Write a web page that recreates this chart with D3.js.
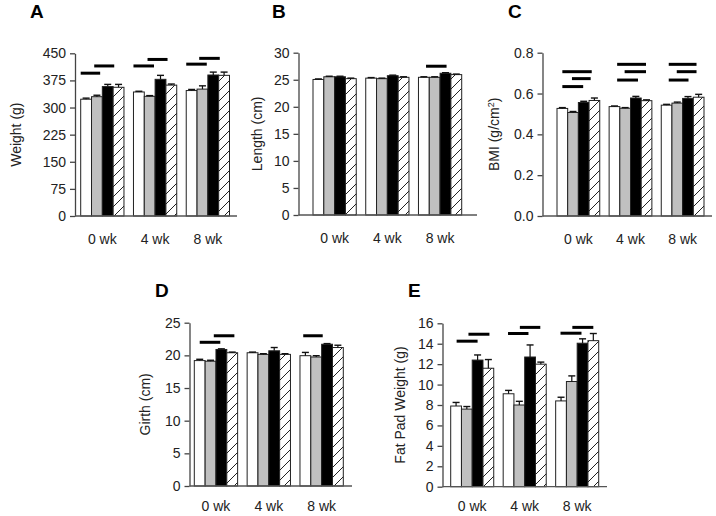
<!DOCTYPE html>
<html><head><meta charset="utf-8">
<script src="https://cdn.jsdelivr.net/npm/d3@7"></script>
<style>
body{margin:0;background:#fff}
svg{display:block;font-family:"Liberation Sans",Arial,sans-serif}
</style></head><body>
<svg id="fig" width="716" height="516"></svg>
<script>
// categories
const weeks = ["0 wk", "4 wk", "8 wk"];
const groups = [0, 1, 2, 3]; // open, grey, solid, hatched

// A - weight
const weightMean = [[323, 330, 358, 356], [343, 331, 378, 362], [347, 351, 390, 389]];
const weightErr = [[3, 4, 6, 8], [2, 2, 11, 3], [3, 9, 8, 9]];
const weightSig = [[0, 0, 1.8, 395], [0, 1.25, 3.1, 415], [1, 0, 1.9, 415], [1, 1.3, 3.15, 433], [2, 0, 1.9, 420], [2, 1.2, 3.1, 436]];
const weightTicks = [0, 75, 150, 225, 300, 375, 450];

// B - length
const lengthMean = [[25.05, 25.55, 25.55, 25.2], [25.3, 25.2, 25.75, 25.45], [25.45, 25.45, 26.2, 25.95]];
const lengthErr = [[0.1, 0.1, 0.1, 0.1], [0.1, 0.1, 0.1, 0.1], [0.1, 0.1, 0.1, 0.1]];
const lengthSig = [[2, 0.7, 2.6, 27.5]];
const lengthTicks = [0, 5, 10, 15, 20, 25, 30];

// C - BMI
const bmiMean = [[0.527, 0.507, 0.556, 0.566], [0.536, 0.528, 0.578, 0.565], [0.543, 0.553, 0.576, 0.582]];
const bmiErr = [[0.004, 0.005, 0.006, 0.012], [0.003, 0.003, 0.008, 0.004], [0.004, 0.005, 0.009, 0.014]];
const bmiSig = [[0, 0.5, 3.25, 0.707], [0, 1.4, 3.15, 0.673], [0, 0.5, 2.45, 0.634],
                [1, 0.75, 3.45, 0.743], [1, 1.45, 3.45, 0.707], [1, 0.75, 2.7, 0.666],
                [2, 0.7, 3.3, 0.743], [2, 1.45, 3.3, 0.707], [2, 0.7, 2.55, 0.666]];
const bmiTicks = [0, 0.2, 0.4, 0.6, 0.8];

// D - girth
const girthMean = [[19.2, 19.1, 20.9, 20.4], [20.4, 20.15, 20.7, 20.15], [19.95, 19.75, 21.7, 21.2]];
const girthErr = [[0.2, 0.15, 0.1, 0.1], [0.1, 0.1, 0.5, 0.1], [0.5, 0.2, 0.1, 0.35]];
const girthSig = [[0, 0.5, 2.4, 22.0], [0, 1.8, 3.7, 23.0], [2, 0.3, 2.1, 23.0]];
const girthTicks = [0, 5, 10, 15, 20, 25];

// E - fat pad
const fatMean = [[7.9, 7.6, 12.4, 11.6], [9.1, 8.0, 12.7, 12.0], [8.4, 10.3, 14.05, 14.3]];
const fatErr = [[0.35, 0.25, 0.5, 0.85], [0.33, 0.36, 1.18, 0.2], [0.36, 0.55, 0.43, 0.7]];
const fatSig = [[0, 0.55, 2.5, 14.25], [0, 1.65, 3.6, 14.93], [1, 0.45, 2.35, 15.0], [1, 1.55, 3.45, 15.6], [2, 0.45, 2.4, 15.03], [2, 1.55, 3.5, 15.6]];
const fatTicks = [0, 2, 4, 6, 8, 10, 12, 14, 16];

const svg = d3.select("#fig");

// hatch pattern
svg.append("defs").append("pattern")
  .attr("id", "hatch")
  .attr("patternUnits", "userSpaceOnUse")
  .attr("width", 10).attr("height", 10)
  .call(p => {
    p.append("rect").attr("width", 10).attr("height", 10).attr("fill", "#fff");
    p.append("path")
      .attr("d", "M0,10 L10,0 M-2,2 L2,-2 M8,12 L12,8")
      .attr("stroke", "#222").attr("stroke-width", 1);
  });

const fills = ["#fff", "#c0c0c0", "#000", "url(#hatch)"];

const panels = [
  { letter: "A", lx: 30, ly: 18, title: "Weight (g)", toff: 54, mean: weightMean, err: weightErr, sig: weightSig, ticks: weightTicks, fmt: d3.format("d"),
    ax: 75, top: 53.3, bottom: 216, xEnd: 237, b0: 80.7, b1: 229.5, lab: 28 },
  { letter: "B", lx: 272, ly: 18, title: "Length (cm)", toff: 37, mean: lengthMean, err: lengthErr, sig: lengthSig, ticks: lengthTicks, fmt: d3.format("d"),
    ax: 298.5, top: 52.7, bottom: 215, xEnd: 477, b0: 313, b1: 461.7, lab: 28 },
  { letter: "C", lx: 508, ly: 18, title: "BMI", toff: 44, mean: bmiMean, err: bmiErr, sig: bmiSig, ticks: bmiTicks, fmt: d3.format(".1f"),
    ax: 542.5, top: 52.7, bottom: 216, xEnd: 712, b0: 557, b1: 704, lab: 28 },
  { letter: "D", lx: 155, ly: 297, title: "Girth (cm)", toff: 40, mean: girthMean, err: girthErr, sig: girthSig, ticks: girthTicks, fmt: d3.format("d"),
    ax: 189.5, top: 322.7, bottom: 486, xEnd: 352, b0: 194.3, b1: 343.3, lab: 25 },
  { letter: "E", lx: 408, ly: 297, title: "Fat Pad Weight (g)", toff: 38, mean: fatMean, err: fatErr, sig: fatSig, ticks: fatTicks, fmt: d3.format("d"),
    ax: 442.5, top: 323.3, bottom: 486.7, xEnd: 607, b0: 450.7, b1: 598.7, lab: 24.5 }
];

panels.forEach(p => {
  const g = svg.append("g");
  const y = d3.scaleLinear().domain([0, d3.max(p.ticks)]).range([p.bottom, p.top]);
  const x = d3.scaleBand().domain(weeks).range([p.b0, p.b1]).paddingInner(0.18).paddingOuter(0);
  const xs = d3.scaleBand().domain(groups).range([0, x.bandwidth()]);
  const bw = xs.bandwidth();

  // panel letter
  g.append("text").attr("x", p.lx).attr("y", p.ly)
    .attr("font-size", 19).attr("font-weight", "bold").attr("fill", "#000")
    .text(p.letter);

  // y title
  const t = g.append("text")
    .attr("transform", `translate(${p.ax - p.toff},${(p.top + p.bottom) / 2}) rotate(-90)`)
    .attr("text-anchor", "middle").attr("font-size", 14).attr("fill", "#222");
  if (p.letter === "C") {
    t.append("tspan").text("BMI (g/cm");
    t.append("tspan").attr("dy", -5).attr("font-size", 9).text("2");
    t.append("tspan").attr("dy", 5).text(")");
  } else {
    t.text(p.title);
  }

  // bars
  weeks.forEach((w, i) => {
    groups.forEach(k => {
      const v = p.mean[i][k], e = p.err[i][k];
      const bx = x(w) + xs(k);
      g.append("rect")
        .attr("x", bx).attr("y", y(v))
        .attr("width", bw).attr("height", y(0) - y(v))
        .attr("fill", fills[k]).attr("stroke", "#222").attr("stroke-width", 1);
      const cx = bx + bw / 2;
      g.append("line").attr("x1", cx).attr("x2", cx).attr("y1", y(v)).attr("y2", y(v + e))
        .attr("stroke", "#111").attr("stroke-width", 1.2);
      g.append("line").attr("x1", cx - 3.5).attr("x2", cx + 3.5).attr("y1", y(v + e)).attr("y2", y(v + e))
        .attr("stroke", "#111").attr("stroke-width", 1.4);
    });
  });

  // significance bars
  p.sig.forEach(([wi, a, b, v]) => {
    const x0 = x(weeks[wi]);
    g.append("line")
      .attr("x1", x0 + a * bw).attr("x2", x0 + b * bw)
      .attr("y1", y(v)).attr("y2", y(v))
      .attr("stroke", "#000").attr("stroke-width", 3);
  });

  // y axis
  const ya = g.append("g").attr("transform", `translate(${p.ax},0)`)
    .call(d3.axisLeft(y).tickValues(p.ticks).tickFormat(p.fmt).tickSize(5).tickPadding(4).tickSizeOuter(0));
  ya.select(".domain").attr("stroke", "#444").attr("stroke-width", 1.3);
  ya.selectAll(".tick line").attr("stroke", "#444").attr("stroke-width", 1.3);
  ya.selectAll(".tick text").attr("font-size", 14).attr("fill", "#222")
    .attr("font-family", "'Liberation Sans',Arial,sans-serif");

  // x axis line
  g.append("line").attr("x1", p.ax).attr("x2", p.xEnd).attr("y1", p.bottom).attr("y2", p.bottom)
    .attr("stroke", "#555").attr("stroke-width", 1.3);

  // category labels
  weeks.forEach(w => {
    g.append("text").attr("x", x(w) + x.bandwidth() / 2).attr("y", p.bottom + p.lab)
      .attr("text-anchor", "middle").attr("font-size", 14).attr("fill", "#222").text(w);
  });
});
</script>
</body></html>
